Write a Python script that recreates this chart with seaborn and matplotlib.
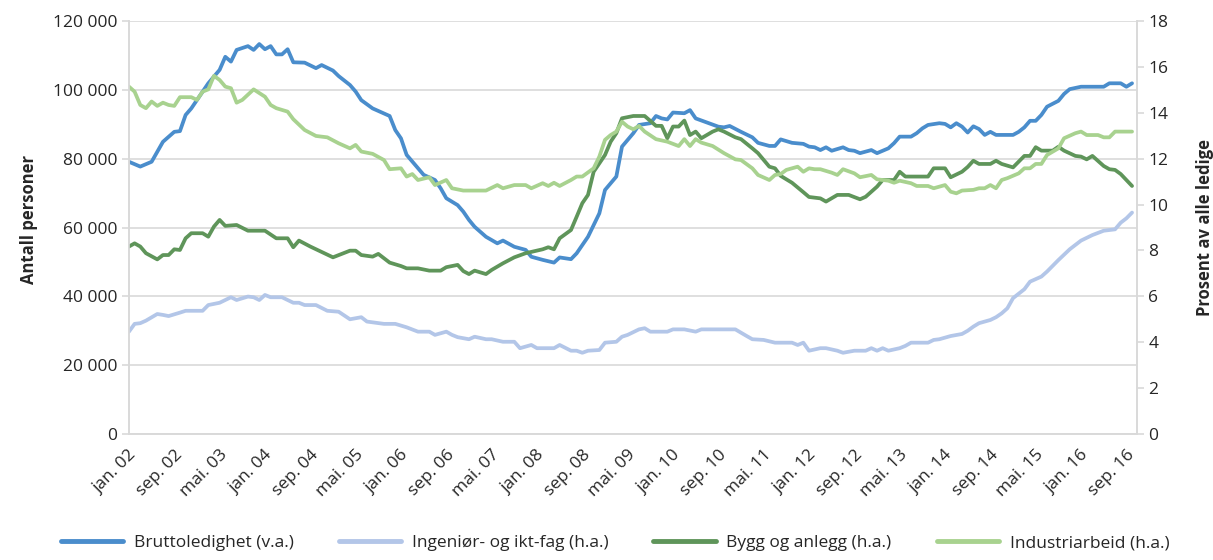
import numpy as np
import pandas as pd
import matplotlib
matplotlib.use("Agg")
import matplotlib.pyplot as plt
import matplotlib.transforms as mtransforms
from matplotlib.lines import Line2D
from matplotlib.ticker import FuncFormatter
import seaborn as sns

# months counted from jan. 2002 (0) to okt. 2016 (177)
brutto_m = [0, 2, 4, 5, 6, 8, 9, 10, 11, 13, 14, 16, 17, 18, 19, 21, 22, 23, 24, 25, 26, 27, 28, 29,
            31, 33, 34, 36, 37, 39, 40, 41, 43, 46, 47, 48, 49, 51, 52, 54, 55, 56, 58, 59, 60, 61,
            63, 65, 66, 68, 70, 71, 73, 75, 76, 78, 79, 81, 83, 84, 86, 87, 89, 90, 92, 93, 94, 95,
            96, 98, 99, 100, 102, 104, 105, 106, 108, 110, 111, 113, 114, 115, 117, 119, 120, 121,
            122, 123, 124, 126, 127, 128, 129, 131, 132, 134, 135, 136, 138, 139, 140, 141, 143,
            144, 145, 146, 147, 148, 149, 150, 151, 152, 153, 154, 156, 157, 158, 159, 160, 161,
            162, 164, 165, 166, 168, 170, 171, 172, 173, 175, 176, 177]
brutto_v = [79100, 77700, 79100, 82000, 84900, 87800, 88000, 92700, 94600, 99500, 101900, 105800,
            109600, 108200, 111600, 112700, 111600, 113300, 111800, 112700, 110300, 110300, 111800,
            108000, 107900, 106300, 107200, 105600, 104000, 101400, 99500, 97000, 94600, 92400,
            88300, 85900, 81100, 77200, 75300, 73800, 71400, 68500, 66500, 64600, 62200, 60200,
            57300, 55400, 56200, 54400, 53500, 51500, 50600, 49800, 51300, 50800, 52500, 57300,
            64100, 70900, 74800, 83500, 87400, 89800, 90300, 92400, 91700, 91400, 93400, 93200,
            94100, 91700, 90500, 89300, 89100, 89500, 87800, 86200, 84600, 83700, 83700, 85600,
            84600, 84300, 83500, 83300, 82500, 83300, 82300, 83300, 82500, 82300, 81600, 82500,
            81600, 83000, 84500, 86400, 86400, 87400, 88800, 89800, 90300, 90100, 89100, 90300,
            89300, 87600, 89400, 88600, 86900, 87800, 86900, 86900, 86900, 87800, 89100, 91000,
            91000, 92700, 95100, 96800, 98800, 100200, 100900, 100900, 100900, 100900, 101900,
            101900, 100900, 101900]

ing_m = [0, 1, 2, 3, 5, 6, 7, 9, 10, 13, 14, 16, 18, 19, 21, 22, 23, 24, 25, 27, 29, 30, 31, 33,
         35, 37, 39, 41, 42, 45, 47, 49, 51, 53, 54, 56, 57, 58, 60, 61, 63, 64, 66, 68, 69, 71,
         72, 75, 76, 78, 79, 80, 81, 83, 84, 86, 87, 88, 90, 91, 92, 95, 96, 98, 100, 101, 104,
         107, 109, 110, 112, 114, 117, 118, 119, 120, 122, 123, 125, 126, 128, 130, 131, 132,
         133, 134, 136, 137, 138, 141, 142, 143, 144, 145, 147, 148, 149, 150, 152, 153, 154,
         155, 156, 158, 159, 161, 162, 164, 166, 168, 170, 172, 174, 175, 176, 177]
ing_v = [4.46, 4.80, 4.83, 4.94, 5.23, 5.19, 5.14, 5.29, 5.37, 5.37, 5.62, 5.72, 5.96, 5.84, 5.99,
         5.96, 5.84, 6.06, 5.96, 5.96, 5.72, 5.72, 5.62, 5.62, 5.37, 5.33, 5.00, 5.09, 4.90, 4.80,
         4.80, 4.65, 4.46, 4.46, 4.32, 4.46, 4.32, 4.22, 4.13, 4.24, 4.13, 4.13, 4.02, 4.02, 3.74,
         3.88, 3.74, 3.74, 3.88, 3.63, 3.63, 3.54, 3.63, 3.66, 3.98, 4.02, 4.24, 4.32, 4.56, 4.61,
         4.46, 4.46, 4.56, 4.56, 4.46, 4.56, 4.56, 4.56, 4.27, 4.13, 4.10, 3.98, 3.98, 3.88, 3.98,
         3.63, 3.74, 3.74, 3.63, 3.54, 3.63, 3.63, 3.74, 3.63, 3.74, 3.63, 3.74, 3.84, 3.98, 3.98,
         4.10, 4.13, 4.20, 4.27, 4.36, 4.50, 4.68, 4.83, 4.97, 5.09, 5.26, 5.48, 5.92, 6.31, 6.64,
         6.86, 7.08, 7.58, 8.05, 8.43, 8.67, 8.86, 8.92, 9.21, 9.40, 9.65]

bygg_m = [0, 1, 2, 3, 5, 6, 7, 8, 9, 10, 11, 13, 14, 15, 16, 17, 19, 21, 24, 26, 28, 29, 30, 32,
          36, 39, 40, 41, 43, 44, 46, 48, 49, 51, 53, 55, 56, 58, 59, 60, 61, 63, 64, 66, 68, 70,
          73, 74, 75, 76, 78, 79, 80, 81, 82, 84, 85, 86, 87, 89, 91, 93, 94, 95, 96, 97, 98, 99,
          100, 101, 103, 104, 105, 107, 108, 110, 111, 113, 114, 115, 117, 119, 120, 122, 123,
          125, 127, 129, 130, 132, 133, 135, 136, 137, 139, 141, 142, 144, 145, 147, 148, 149,
          150, 152, 153, 154, 156, 157, 158, 159, 160, 161, 163, 164, 165, 167, 168, 169, 170,
          172, 173, 174, 175, 177]
bygg_v = [8.17, 8.31, 8.17, 7.88, 7.61, 7.80, 7.80, 8.05, 8.02, 8.53, 8.75, 8.75, 8.60, 9.04, 9.33,
          9.07, 9.11, 8.86, 8.86, 8.53, 8.53, 8.14, 8.43, 8.17, 7.70, 7.99, 7.99, 7.80, 7.73, 7.85,
          7.47, 7.32, 7.22, 7.22, 7.12, 7.12, 7.27, 7.37, 7.10, 6.97, 7.12, 6.97, 7.15, 7.44, 7.70,
          7.88, 8.05, 8.14, 8.05, 8.53, 8.89, 9.47, 10.06, 10.42, 11.43, 12.16, 12.74, 13.11,
          13.76, 13.86, 13.86, 13.43, 13.43, 12.89, 13.40, 13.40, 13.66, 13.03, 13.18, 12.89,
          13.18, 13.28, 13.18, 12.93, 12.85, 12.45, 12.24, 11.65, 11.58, 11.25, 10.95, 10.54,
          10.33, 10.27, 10.13, 10.42, 10.42, 10.23, 10.34, 10.78, 11.07, 11.07, 11.43, 11.22,
          11.22, 11.22, 11.58, 11.58, 11.19, 11.43, 11.64, 11.91, 11.77, 11.77, 11.91, 11.77,
          11.62, 11.87, 12.12, 12.12, 12.50, 12.35, 12.35, 12.52, 12.35, 12.12, 12.09, 11.97,
          12.12, 11.68, 11.54, 11.51, 11.33, 10.81]

ind_m = [0, 1, 2, 3, 4, 5, 6, 7, 8, 9, 11, 12, 13, 14, 15, 16, 17, 18, 19, 20, 22, 24, 25, 26, 28,
         29, 31, 33, 35, 37, 39, 40, 41, 43, 45, 46, 48, 49, 50, 51, 53, 54, 56, 57, 59, 63, 65,
         66, 68, 70, 71, 73, 74, 75, 76, 78, 79, 80, 82, 83, 84, 85, 86, 87, 88, 89, 90, 91, 93,
         95, 97, 98, 99, 100, 101, 103, 105, 107, 108, 110, 111, 113, 114, 115, 116, 118, 119,
         120, 121, 122, 124, 125, 126, 128, 129, 131, 132, 134, 135, 136, 138, 139, 141, 142,
         144, 145, 146, 147, 149, 150, 151, 152, 153, 154, 155, 157, 158, 159, 160, 161, 162,
         164, 165, 167, 168, 169, 171, 172, 173, 174, 176, 177]
ind_v = [15.14, 14.92, 14.34, 14.20, 14.49, 14.30, 14.44, 14.34, 14.30, 14.68, 14.68, 14.56, 14.92,
         15.02, 15.61, 15.43, 15.14, 15.07, 14.44, 14.56, 15.02, 14.70, 14.34, 14.20, 14.05,
         13.72, 13.25, 12.99, 12.93, 12.67, 12.45, 12.60, 12.31, 12.21, 11.94, 11.54, 11.58,
         11.22, 11.33, 11.07, 11.19, 10.85, 11.07, 10.71, 10.61, 10.61, 10.85, 10.71, 10.85,
         10.85, 10.71, 10.93, 10.81, 10.95, 10.81, 11.07, 11.22, 11.22, 11.58, 12.09, 12.82,
         13.03, 13.18, 13.61, 13.40, 13.28, 13.43, 13.18, 12.85, 12.74, 12.55, 12.85, 12.55,
         12.85, 12.70, 12.55, 12.24, 11.97, 11.94, 11.58, 11.29, 11.07, 11.29, 11.33, 11.51,
         11.65, 11.43, 11.58, 11.54, 11.54, 11.39, 11.29, 11.54, 11.36, 11.19, 11.29, 11.10,
         11.04, 10.95, 11.04, 10.93, 10.81, 10.81, 10.71, 10.85, 10.56, 10.49, 10.61, 10.64,
         10.71, 10.71, 10.85, 10.71, 11.07, 11.15, 11.36, 11.58, 11.58, 11.77, 11.77, 12.16,
         12.45, 12.89, 13.11, 13.18, 13.03, 13.03, 12.93, 12.93, 13.18, 13.18, 13.18]

tick_pos = list(range(0, 177, 8))
tick_labels = ['jan. 02', 'sep. 02', 'mai. 03', 'jan. 04', 'sep. 04', 'mai. 05', 'jan. 06',
               'sep. 06', 'mai. 07', 'jan. 08', 'sep. 08', 'mai. 09', 'jan. 10', 'sep. 10',
               'mai. 11', 'jan. 12', 'sep. 12', 'mai. 13', 'jan. 14', 'sep. 14', 'mai. 15',
               'jan. 16', 'sep. 16']

names = ['Bruttoledighet (v.a.)', 'Ingeniør- og ikt-fag (h.a.)', 'Bygg og anlegg (h.a.)',
         'Industriarbeid (h.a.)']
colors = ['#4a8dcc', '#b3c6e8', '#5f955a', '#a8d28f']

sns.set_style('white')
plt.rcParams['font.family'] = ['Open Sans', 'DejaVu Sans']
text_col = '#262626'
grid_col = '#d9d9d9'
lw = 2.7

fig = plt.figure(figsize=(12.13, 5.6), dpi=100)
ax = fig.add_axes([0.1063, 0.225, 0.8307, 0.7375])
ax2 = ax.twinx()

sns.lineplot(x=brutto_m, y=brutto_v, ax=ax, color=colors[0], linewidth=lw)
sns.lineplot(x=ing_m, y=ing_v, ax=ax2, color=colors[1], linewidth=lw)
sns.lineplot(x=bygg_m, y=bygg_v, ax=ax2, color=colors[2], linewidth=lw)
sns.lineplot(x=ind_m, y=ind_v, ax=ax2, color=colors[3], linewidth=lw)

ax.set_xlim(0, 177.8)
ax.set_ylim(0, 120000)
ax2.set_ylim(0, 18)
ax.set_yticks(np.arange(0, 120001, 20000))
ax2.set_yticks(np.arange(0, 19, 2))
ax.yaxis.set_major_formatter(FuncFormatter(lambda v, p: f"{int(v):,}".replace(",", " ")))
ax.set_xticks(tick_pos)
ax.set_xticklabels(tick_labels, rotation=45, ha='right', rotation_mode='anchor')
offset = mtransforms.ScaledTranslation(0.08, -0.05, fig.dpi_scale_trans)
for lab in ax.get_xticklabels():
    lab.set_transform(lab.get_transform() + offset)

ax.yaxis.grid(True, color=grid_col, linewidth=1.2)
ax.xaxis.grid(False)
ax2.grid(False)
for a in (ax, ax2):
    for s in a.spines.values():
        s.set_color(grid_col)
        s.set_linewidth(1.2)
    a.spines['top'].set_visible(False)
    a.tick_params(colors=text_col, labelsize=12.5, length=5, color=grid_col, width=1.2)
ax.tick_params(axis='x', pad=4)

ax.set_xlabel('')
ax.set_ylabel('Antall personer', fontsize=12, fontweight='bold', color=text_col, labelpad=16)
ax.yaxis.set_label_coords(-0.09, 0.52)
ax2.set_ylabel('Prosent av alle ledige', fontsize=12, fontweight='bold', color=text_col,
               labelpad=20)

handles = [Line2D([0], [0], color=c, linewidth=3.5) for c in colors]
fig.legend(handles, names, loc='lower center', bbox_to_anchor=(0.507, -0.012), ncol=4,
           frameon=False, fontsize=12.5, handlelength=3.6, columnspacing=2.6,
           handletextpad=0.6, labelcolor=text_col)

fig.savefig('out.png', dpi=100)
